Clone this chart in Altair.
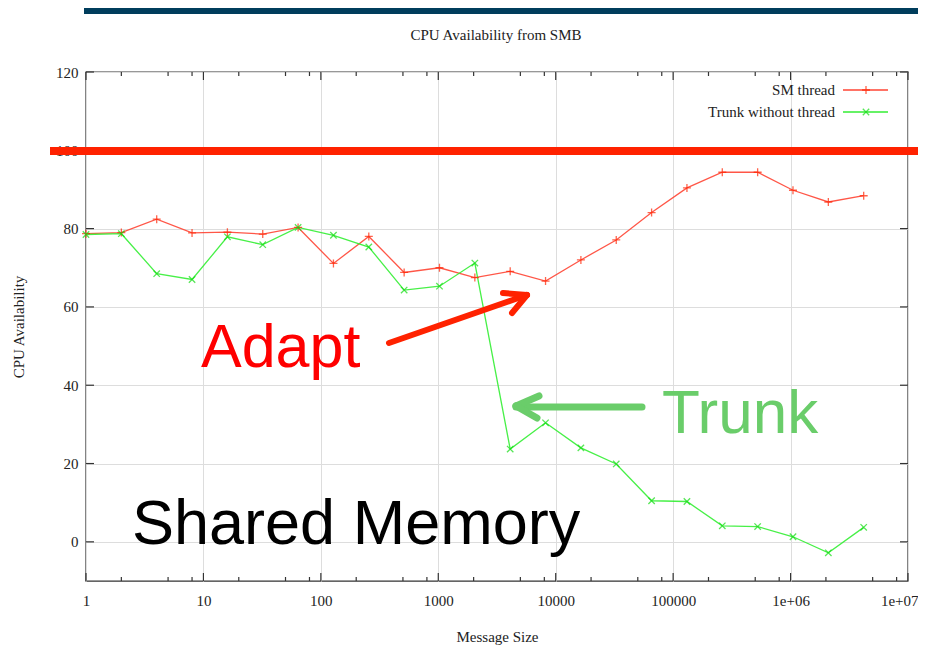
import altair as alt
import pandas as pd

# ---------------- data ----------------
sizes = [1, 2, 4, 8, 16, 32, 64, 128, 256, 512, 1024, 2048, 4096, 8192,
         16384, 32768, 65536, 131072, 262144, 524288, 1048576, 2097152, 4194304]
sm_thread = [78.7, 79.0, 82.4, 78.9, 79.1, 78.6, 80.3, 71.1, 78.0, 68.8, 70.0, 67.5,
             69.1, 66.6, 72.0, 77.1, 84.1, 90.4, 94.4, 94.4, 89.8, 86.8, 88.4]
trunk = [78.5, 78.7, 68.5, 67.0, 77.9, 75.9, 80.3, 78.3, 75.3, 64.3, 65.3, 71.2,
         23.7, 30.4, 24.0, 19.9, 10.5, 10.3, 4.1, 3.9, 1.3, -2.8, 3.7]
series_names = ["SM thread", "Trunk without thread"]

x_major = [1, 10, 100, 1000, 10000, 100000, 1000000, 10000000]
x_minor = [2, 5, 8, 20, 50, 80, 200, 500, 800, 2000, 5000, 8000,
           20000, 50000, 80000, 200000, 500000, 800000, 2000000, 5000000, 8000000]
y_major = [0, 20, 40, 60, 80, 100, 120]

chart_title = "CPU Availability from SMB"
x_title = "Message Size"
y_title = "CPU Availability"
notes = ["Adapt", "Trunk", "Shared Memory"]

# ---------------- styling ----------------
W, H = 822, 509
SERIF = "Liberation Serif"
SANS = "Liberation Sans"
RED_LINE, GREEN_LINE = "#ff4433", "#33ee33"
RED_PT, GREEN_PT = "#ff2200", "#11dd11"
PLUS = "M-1,0L1,0M0,-1L0,1"
CROSS = "M-0.8,-0.8L0.8,0.8M0.8,-0.8L-0.8,0.8"

df = pd.DataFrame({
    "size": sizes + sizes,
    "value": sm_thread + trunk,
    "series": [series_names[0]] * len(sizes) + [series_names[1]] * len(sizes),
})

xscale = alt.Scale(type="log", domain=[1, 10000000], nice=False)
yscale = alt.Scale(domain=[-10, 120], nice=False, zero=False)
one = alt.Data(values=[{"a": 1}])

label_expr = ("datum.value == 1000000 ? '1e+06' : datum.value == 10000000 ? '1e+07' : "
              "format(datum.value, 'd')")

x_axis = alt.Axis(
    values=x_major, labelExpr=label_expr, title=x_title, grid=True,
    gridColor="#dddddd", gridWidth=1, ticks=False, domain=False,
    labelFont=SERIF, labelFontSize=15, labelColor="#222", labelPadding=12,
    labelFlush=False,
    labelAlign=alt.ExprRef(expr="datum.value == 10000000 ? 'right' : 'center'"),
    labelOffset=alt.ExprRef(expr="datum.value == 10000000 ? 10 : 0"),
    titleFont=SERIF, titleFontSize=15, titleColor="#222", titleFontWeight="normal",
    titleX=W / 2, titleY=55, titleBaseline="middle", titleAlign="center")
y_axis = alt.Axis(
    values=y_major, title=y_title, grid=True, gridColor="#dddddd", gridWidth=1,
    ticks=False, domain=False,
    labelFont=SERIF, labelFontSize=15, labelColor="#222", labelPadding=8,
    titleFont=SERIF, titleFontSize=15, titleColor="#222", titleFontWeight="normal",
    titleAngle=-90, titleX=-68, titleY=H / 2, titleBaseline="middle", titleAlign="center")


def X(field):
    return alt.X(field, scale=xscale, axis=x_axis)


def Y(field):
    return alt.Y(field, scale=yscale, axis=y_axis)


lines = alt.Chart(df).mark_line(strokeWidth=1.3, opacity=0.9).encode(
    x=X("size:Q"), y=Y("value:Q"),
    color=alt.Color("series:N", scale=alt.Scale(domain=series_names, range=[RED_LINE, GREEN_LINE]),
                    legend=None),
    detail="series:N",
)

points = alt.Chart(df).mark_point(filled=False, size=64, strokeWidth=1.3).encode(
    x=X("size:Q"), y=Y("value:Q"),
    color=alt.Color("series:N", scale=alt.Scale(domain=series_names, range=[RED_PT, GREEN_PT]),
                    legend=None),
    shape=alt.Shape("series:N", scale=alt.Scale(domain=series_names, range=[PLUS, CROSS]),
                    legend=None),
)

# inward ticks (gnuplot style)
xmaj = pd.DataFrame({"size": x_major})
xmin = pd.DataFrame({"size": x_minor})
ymaj = pd.DataFrame({"value": y_major})
TICK = "#333333"


def xticks(d, length):
    b = alt.Chart(d).mark_rule(color=TICK, strokeWidth=1.2).encode(
        x=X("size:Q"), y=alt.value(H), y2=alt.value(H - length))
    t = alt.Chart(d).mark_rule(color=TICK, strokeWidth=1.2).encode(
        x=X("size:Q"), y=alt.value(0), y2=alt.value(length))
    return [b, t]


ytk_l = alt.Chart(ymaj).mark_rule(color=TICK, strokeWidth=1.2).encode(
    y=Y("value:Q"), x=alt.value(0), x2=alt.value(8))
ytk_r = alt.Chart(ymaj).mark_rule(color=TICK, strokeWidth=1.2).encode(
    y=Y("value:Q"), x=alt.value(W), x2=alt.value(W - 8))

# title
title = alt.Chart(one).mark_text(text=chart_title, font=SERIF, fontSize=15, color="#222",
                                 baseline="middle", align="center").encode(
    x=alt.value(W / 2 - 1), y=alt.value(-37))

# legend (label left, sample right)
leg = []
for i, (name, lc, pc, shp) in enumerate(zip(series_names, [RED_LINE, GREEN_LINE],
                                            [RED_PT, GREEN_PT], [PLUS, CROSS])):
    yy = 18 + 22 * i
    leg.append(alt.Chart(one).mark_text(text=name, font=SERIF, fontSize=15, color="#222",
                                        align="right", baseline="middle").encode(
        x=alt.value(749), y=alt.value(yy)))
    leg.append(alt.Chart(one).mark_rule(color=lc, strokeWidth=1.5).encode(
        x=alt.value(757), x2=alt.value(802), y=alt.value(yy)))
    leg.append(alt.Chart(one).mark_point(shape=shp, filled=False, size=64, strokeWidth=1.3,
                                         color=pc).encode(x=alt.value(780), y=alt.value(yy)))

# slide overlays
banner = alt.Chart(one).mark_rect(color="#003d5c").encode(
    x=alt.value(-2), x2=alt.value(W + 10), y=alt.value(-64), y2=alt.value(-58))
redbar = alt.Chart(one).mark_rule(color="#ff2200", strokeWidth=8).encode(
    x=alt.value(-36), x2=alt.value(W + 10), y=alt.value(79))

ARED = "#ff2200"
AGREEN = "#6acd6a"
arrows = []
for (x1, y1, x2, y2, c, w) in [
    (303, 271, 441, 223, ARED, 6), (441, 223, 417, 221, ARED, 6), (441, 223, 426, 241, ARED, 6),
    (556, 335, 430, 335, AGREEN, 7), (430, 334, 453, 324, AGREEN, 7), (430, 334, 451, 346, AGREEN, 7),
]:
    arrows.append(alt.Chart(one).mark_rule(color=c, strokeWidth=w, strokeCap="round").encode(
        x=alt.value(x1), y=alt.value(y1), x2=alt.value(x2), y2=alt.value(y2)))

adapt = alt.Chart(one).mark_text(text=notes[0], font=SANS, fontSize=61, color="#ff0000",
                                 align="left", baseline="alphabetic").encode(
    x=alt.value(115), y=alt.value(295))
trunk_t = alt.Chart(one).mark_text(text=notes[1], font=SANS, fontSize=62, color=AGREEN,
                                   align="left", baseline="alphabetic").encode(
    x=alt.value(576), y=alt.value(361))
shared = alt.Chart(one).mark_text(text=notes[2], font=SANS, fontSize=63, color="#000000",
                                  align="left", baseline="alphabetic").encode(
    x=alt.value(46), y=alt.value(472))

chart = alt.layer(
    lines, points,
    *xticks(xmaj, 8), *xticks(xmin, 4), ytk_l, ytk_r,
    title, *leg, banner, redbar, *arrows, adapt, trunk_t, shared,
).resolve_scale(color="independent", shape="independent").properties(
    width=W, height=H,
    autosize=alt.AutoSizeParams(type="none"),
    padding={"left": 78, "top": 64, "right": 10, "bottom": 70},
    background="white",
).configure_view(stroke="#333333", strokeWidth=1.4)

chart.save("out.html", embed_options={"renderer": "svg", "actions": False})
